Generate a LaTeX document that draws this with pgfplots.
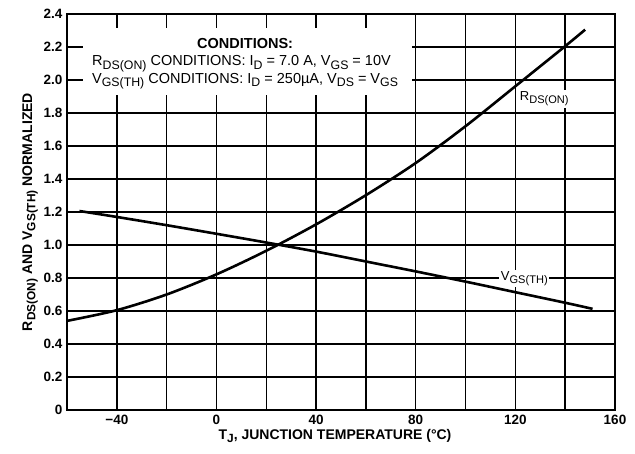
\documentclass[border=0pt]{standalone}
\usepackage{fontspec}
\setmainfont{Liberation Sans}
\usepackage{pgfplots}
\pgfplotsset{compat=1.18}
\newcommand{\sub}[1]{\raisebox{-0.45ex}{\scalebox{0.85}{#1}}}
\begin{document}
\begin{tikzpicture}
\useasboundingbox (0,0) rectangle (635pt,453pt);
\begin{axis}[
  at={(67pt,43pt)}, anchor=south west,
  scale only axis, width=548pt, height=396pt,
  xmin=-60, xmax=160, ymin=0, ymax=2.4,
  xtick={-60,-40,-20,0,20,40,60,80,100,120,140,160},
  xticklabels={,−40,,0,,40,,80,,120,,160},
  ytick={0,0.2,0.4,0.6,0.8,1.0,1.2,1.4,1.6,1.8,2.0,2.2,2.4},
  yticklabels={0,0.2,0.4,0.6,0.8,1.0,1.2,1.4,1.6,1.8,2.0,2.2,2.4},
  grid=major,
  major grid style={line width=1.5pt, black},
  major tick length=0pt,
  axis line style={line width=2.4pt},
  tick label style={font=\fontsize{13.5}{15}\selectfont\bfseries},
  xticklabel style={yshift=-2pt},
  yticklabel style={xshift=-1pt},
  xlabel={T\sub{J}, JUNCTION TEMPERATURE (°C)},
  ylabel={R\sub{DS(ON)} AND V\sub{GS(TH)} NORMALIZED},
  label style={font=\fontsize{14}{16}\selectfont\bfseries},
  xlabel style={yshift=3pt, xshift=-6pt},
  ylabel style={yshift=-1pt},
  clip=false,
]
\fill[white] (axis cs:-53.6,1.909) rectangle (axis cs:78.4,2.315);
\node[font=\fontsize{14.5}{19.5}\selectfont, align=left, anchor=center] at (axis cs:11.5,2.11)
 {\begin{tabular}{@{}l@{}}\multicolumn{1}{@{}c@{}}{\bfseries CONDITIONS:}\\[-2pt]
  R\sub{DS(ON)} CONDITIONS: I\sub{D} = 7.0 A, V\sub{GS} = 10V\\[-2pt]
  V\sub{GS(TH)} CONDITIONS: I\sub{D} = 250µA, V\sub{DS} = V\sub{GS}\end{tabular}};
\addplot[black, line width=2.6pt, smooth, line join=round] coordinates {
 (-60,0.54) (-40,0.605) (-20,0.70) (0,0.822) (20,0.965) (40,1.125) (60,1.302)
 (80,1.497) (100,1.72) (120,1.962) (140,2.205) (148,2.305)
};
\addplot[black, line width=2.6pt, smooth, line join=round] coordinates {
 (-55,1.206) (-40,1.17) (-20,1.12) (0,1.068) (20,1.015) (40,0.96) (60,0.90)
 (80,0.84) (100,0.778) (120,0.714) (140,0.65) (151,0.613)
};
\node[fill=white, inner sep=1.5pt, font=\fontsize{13}{15}\selectfont] at (axis cs:131.6,1.885) {R\sub{DS(ON)}};
\node[fill=white, inner sep=1.5pt, font=\fontsize{13}{15}\selectfont] at (axis cs:123.6,0.795) {V\sub{GS(TH)}};
\end{axis}
\end{tikzpicture}
\end{document}
